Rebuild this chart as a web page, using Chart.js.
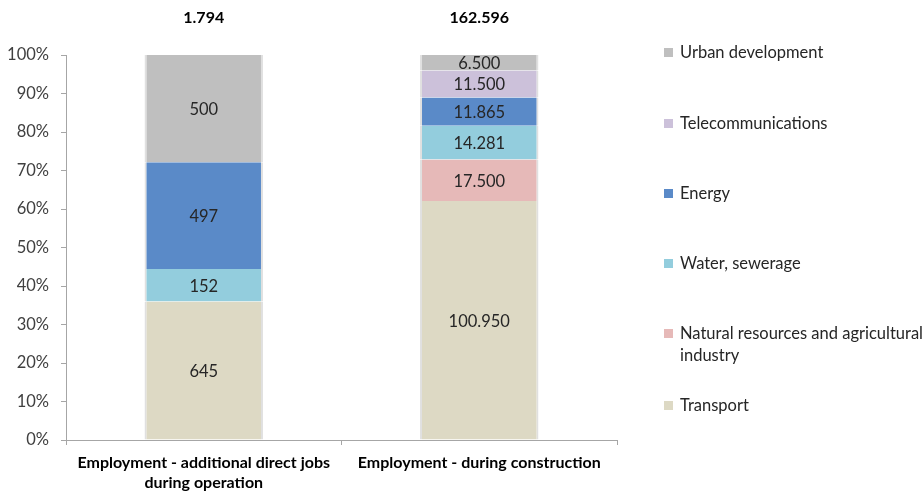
<!DOCTYPE html>
<html>
<head>
<meta charset="utf-8">
<script src="https://cdn.jsdelivr.net/npm/chart.js@4/dist/chart.umd.min.js"></script>
<style>
    body { margin: 0; background: #fff; }
    #wrap { position: relative; width: 923px; height: 493px; }
    #legend { position: absolute; left: 664px; top: 0; font-family: Lato, 'Open Sans', sans-serif; font-size: 16.5px; color: #262626; }
    .lg-item { position: absolute; left: 0; width: 262px; display: flex; align-items: flex-start; line-height: 22px; }
    .lg-box { flex: 0 0 9px; height: 9px; margin: 7px 7px 0 0; }
</style>
</head>
<body>
<div id="wrap">
    <canvas id="chart" width="923" height="493"></canvas>
    <div id="legend"></div>
</div>
<script>
// categories
const categories = [
    ['Employment - additional direct jobs', 'during operation'],
    ['Employment - during construction']
];
const totalLabels = ['1.794', '162.596'];

// series (bottom to top)
const seriesNames = ['Transport', 'Natural resources and agricultural industry', 'Water, sewerage', 'Energy', 'Telecommunications', 'Urban development'];
const seriesColors = ['#DDD9C4', '#E6B9B8', '#93CDDD', '#5A8AC8', '#CCC1DA', '#BFBFBF'];
const transport = [645, 100950];
const naturalRes = [0, 17500];
const water = [152, 14281];
const energy = [497, 11865];
const telecom = [0, 11500];
const urban = [500, 6500];

const yTicks = [0, 10, 20, 30, 40, 50, 60, 70, 80, 90, 100];

const seriesValues = [transport, naturalRes, water, energy, telecom, urban];
const totals = categories.map((_, i) => seriesValues.reduce((s, arr) => s + arr[i], 0));

// 1.234 스타일 숫자
function fmt(v) {
    return String(v).replace(/\B(?=(\d{3})+(?!\d))/g, '.');
}

const datasets = seriesNames.map((name, k) => ({
    label: name,
    raw: seriesValues[k],
    data: seriesValues[k].map((v, i) => v / totals[i] * 100),
    backgroundColor: seriesColors[k],
    borderColor: 'rgba(0,0,0,0.12)',
    borderWidth: { left: 2, right: 2, top: 0, bottom: 0 },
    borderSkipped: false,
    barPercentage: 0.43,
    categoryPercentage: 1.0
}));

// 막대 안 값 + 위 합계
const labelPlugin = {
    id: 'labels',
    afterDatasetsDraw(chart) {
        const ctx = chart.ctx;
        ctx.save();
        ctx.textAlign = 'center';
        ctx.textBaseline = 'middle';
        ctx.font = '16.5px Lato, "Open Sans", sans-serif';
        ctx.fillStyle = '#262626';
        chart.data.datasets.forEach((ds, k) => {
            chart.getDatasetMeta(k).data.forEach((bar, i) => {
                const v = ds.raw[i];
                if (!v) return;
                ctx.fillText(fmt(v), bar.x, (bar.y + bar.base) / 2 + 1);
            });
        });
        ctx.font = 'bold 16px Lato, "Open Sans", sans-serif';
        ctx.fillStyle = '#000';
        const meta = chart.getDatasetMeta(0);
        meta.data.forEach((bar, i) => {
            ctx.fillText(totalLabels[i], bar.x, 18);
        });
        ctx.restore();
    }
};

new Chart(document.getElementById('chart'), {
    type: 'bar',
    data: { labels: categories, datasets },
    options: {
        responsive: false,
        animation: false,
        layout: { padding: { top: 55, right: 306, left: 4, bottom: 0 } },
        plugins: { legend: { display: false }, tooltip: { enabled: false } },
        scales: {
            x: {
                stacked: true,
                afterFit(scale) { scale.height = 53; },
                grid: { offset: true, drawOnChartArea: false, drawTicks: true, tickLength: 5, color: '#A6A6A6' },
                border: { color: '#A6A6A6' },
                ticks: { color: '#000', font: { family: 'Lato, "Open Sans", sans-serif', size: 16, weight: 'bold', lineHeight: 1.3 }, padding: 7, maxRotation: 0 }
            },
            y: {
                stacked: true,
                min: 0,
                max: 100,
                afterFit(scale) { scale.width = 62; },
                afterBuildTicks(scale) { scale.ticks = yTicks.map(v => ({ value: v })); },
                grid: { drawOnChartArea: false, drawTicks: true, tickLength: 5, color: '#A6A6A6' },
                border: { color: '#A6A6A6' },
                ticks: { color: '#404040', font: { family: 'Lato, "Open Sans", sans-serif', size: 16.5 }, padding: 12, callback: v => v + '%' }
            }
        }
    },
    plugins: [labelPlugin]
});

// 범례 (위에서 아래로: 역순)
const legendTops = [41, 112, 182, 252, 322, 394];
const legendEl = document.getElementById('legend');
seriesNames.slice().reverse().forEach((name, j) => {
    const k = seriesNames.length - 1 - j;
    const item = document.createElement('div');
    item.className = 'lg-item';
    item.style.top = legendTops[j] + 'px';
    item.innerHTML = `<span class="lg-box" style="background:${seriesColors[k]}"></span><span>${name}</span>`;
    legendEl.appendChild(item);
});
</script>
</body>
</html>
